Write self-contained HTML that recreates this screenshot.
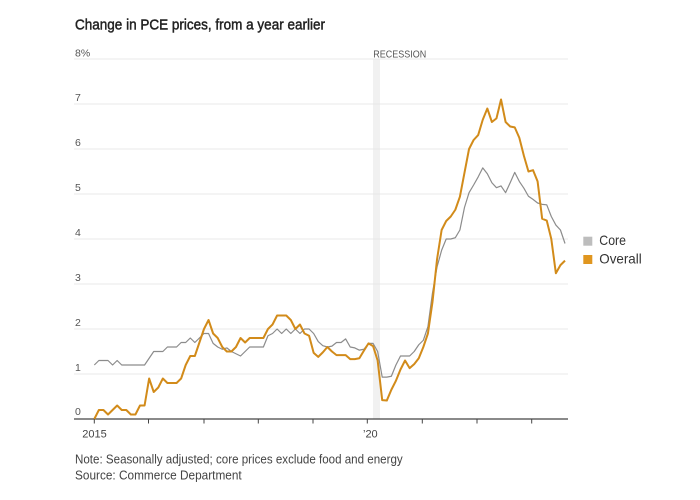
<!DOCTYPE html>
<html><head><meta charset="utf-8"><style>
html,body{margin:0;padding:0;background:#fff;}
svg{display:block;font-family:"Liberation Sans",Arial,sans-serif;}
</style></head><body>
<svg width="700" height="500" viewBox="0 0 700 500" xmlns="http://www.w3.org/2000/svg">
<rect width="700" height="500" fill="#fff"/>
<text x="75" y="29.5" font-size="14.5" fill="#222" stroke="#222" stroke-width="0.45" textLength="250" lengthAdjust="spacingAndGlyphs">Change in PCE prices, from a year earlier</text>
<!-- recession band -->
<rect x="373" y="59" width="7" height="360" fill="#f1f1f1"/>
<text x="373.3" y="57.3" font-size="10.5" fill="#555" textLength="53" lengthAdjust="spacingAndGlyphs">RECESSION</text>
<!-- gridlines -->
<g stroke="#e8e8e8" stroke-width="1">
<line x1="74" y1="59" x2="568" y2="59"/>
<line x1="74" y1="104" x2="568" y2="104"/>
<line x1="74" y1="149" x2="568" y2="149"/>
<line x1="74" y1="194" x2="568" y2="194"/>
<line x1="74" y1="239" x2="568" y2="239"/>
<line x1="74" y1="284" x2="568" y2="284"/>
<line x1="74" y1="329" x2="568" y2="329"/>
<line x1="74" y1="374" x2="568" y2="374"/>
</g>
<g font-size="10.5" fill="#555">
<text x="75" y="56.5">8%</text>
<text x="75" y="101">7</text>
<text x="75" y="146">6</text>
<text x="75" y="191">5</text>
<text x="75" y="236">4</text>
<text x="75" y="281">3</text>
<text x="75" y="326">2</text>
<text x="75" y="371">1</text>
<text x="75" y="415">0</text>
</g>
<!-- axis -->
<line x1="74" y1="419" x2="568" y2="419" stroke="#444" stroke-width="1.3"/>
<g stroke="#444" stroke-width="1">
<line x1="94.3" y1="419" x2="94.3" y2="423.5"/>
<line x1="148.5" y1="419" x2="148.5" y2="423.5"/>
<line x1="204" y1="419" x2="204" y2="423.5"/>
<line x1="258.3" y1="419" x2="258.3" y2="423.5"/>
<line x1="313" y1="419" x2="313" y2="423.5"/>
<line x1="367.3" y1="419" x2="367.3" y2="423.5"/>
<line x1="422.3" y1="419" x2="422.3" y2="423.5"/>
<line x1="477" y1="419" x2="477" y2="423.5"/>
<line x1="531.7" y1="419" x2="531.7" y2="423.5"/>
</g>
<text x="94.5" y="437.7" font-size="11" fill="#444" text-anchor="middle">2015</text>
<text x="363" y="437.5" font-size="11" fill="#444">’20</text>
<!-- core -->
<polyline fill="none" stroke="#8c8c8c" stroke-width="1.2" stroke-linejoin="round" points="94.3,365 98.87,360.5 103.44,360.5 108.01,360.5 112.58,365 117.15,360.5 121.72,365 126.29,365 130.86,365 135.43,365 140,365 144.57,365 149.14,358.25 153.71,351.5 158.28,351.5 162.85,351.5 167.42,347 171.99,347 176.56,347 181.13,342.5 185.7,342.5 190.27,338 194.84,342.5 199.41,338 203.98,333.5 208.55,333.5 213.12,343.4 217.69,347 222.26,349.25 226.83,347.9 231.4,351.5 235.97,353.75 240.54,356 245.11,351.5 249.68,347 254.25,347 258.82,347 263.39,347 267.96,335.75 272.53,333.5 277.1,329 281.67,333.5 286.24,329 290.81,333.5 295.38,329 299.95,333.5 304.52,329 309.09,329 313.66,333.5 318.23,341.6 322.8,345.65 327.37,347 331.94,346.1 336.51,342.5 341.08,342.5 345.65,338.9 350.22,347 354.79,347.9 359.36,350.15 363.93,349.25 368.5,343.4 373.07,343.4 377.64,351.5 382.21,377.15 386.78,377.15 391.35,376.25 395.92,365 400.49,356 405.06,356 409.63,356 414.2,351.5 418.77,344.75 423.34,340.25 427.91,326.75 432.48,293 437.05,266.9 441.62,250.25 446.19,239 450.76,239 455.33,237.65 459.9,230 464.47,207.5 469.04,192.65 473.61,185 478.18,176.9 482.75,167.9 487.32,173.75 491.89,182.75 496.46,187.7 501.03,185.9 505.6,192.65 510.17,182.75 514.74,172.4 519.31,181.4 523.88,188.15 528.45,196.25 533.02,199.4 537.59,203 542.16,204.35 546.73,204.8 551.3,216.5 555.87,225.05 560.44,230 565.01,243.5"/>
<!-- overall -->
<polyline fill="none" stroke="#d28b1a" stroke-width="2" stroke-linejoin="round" points="94.3,419 98.87,410 103.44,410 108.01,414.5 112.58,410 117.15,405.5 121.72,410 126.29,410 130.86,414.5 135.43,414.5 140,405.5 144.57,405.5 149.14,378.5 153.71,392 158.28,387.5 162.85,378.5 167.42,383 171.99,383 176.56,383 181.13,378.5 185.7,365 190.27,356 194.84,356 199.41,342.5 203.98,329 208.55,320 213.12,333.5 217.69,338 222.26,347 226.83,351.5 231.4,351.5 235.97,347 240.54,338 245.11,342.5 249.68,338 254.25,338 258.82,338 263.39,338 267.96,329 272.53,324.5 277.1,315.5 281.67,315.5 286.24,315.5 290.81,320 295.38,329 299.95,324.5 304.52,333.5 309.09,335.75 313.66,352.85 318.23,356.9 322.8,352.4 327.37,347 331.94,351.5 336.51,355.1 341.08,355.1 345.65,355.1 350.22,359.15 354.79,359.15 359.36,358.25 363.93,350.6 368.5,343.4 373.07,346.1 377.64,360.5 382.21,400.1 386.78,400.55 391.35,389.75 395.92,380.75 400.49,369.5 405.06,360.5 409.63,368.15 414.2,364.1 418.77,358.25 423.34,347 427.91,333.5 432.48,302 437.05,259.25 441.62,230 446.19,221 450.76,216.5 455.33,209.75 459.9,196.7 464.47,172.85 469.04,149 473.61,140 478.18,135.05 482.75,119.75 487.32,108.5 491.89,122 496.46,118.4 501.03,99.5 505.6,122 510.17,126.5 514.74,127.4 519.31,137.75 523.88,155.75 528.45,171.5 533.02,170.15 537.59,181.4 542.16,218.75 546.73,220.55 551.3,239 555.87,273.2 560.44,265.1 565.01,260.6"/>
<!-- legend -->
<rect x="583.3" y="236.7" width="9" height="9" fill="#bdbdbd"/>
<rect x="583.3" y="255" width="9" height="9" fill="#e0961f"/>
<text x="599.3" y="245" font-size="14" fill="#333" textLength="26.7" lengthAdjust="spacingAndGlyphs">Core</text>
<text x="599.3" y="263.3" font-size="14" fill="#333" textLength="42.4" lengthAdjust="spacingAndGlyphs">Overall</text>
<!-- notes -->
<text x="75" y="463.3" font-size="12.5" fill="#444" textLength="327.7" lengthAdjust="spacingAndGlyphs">Note: Seasonally adjusted; core prices exclude food and energy</text>
<text x="75" y="479.3" font-size="12.5" fill="#444" textLength="166.7" lengthAdjust="spacingAndGlyphs">Source: Commerce Department</text>
</svg>
</body></html>
